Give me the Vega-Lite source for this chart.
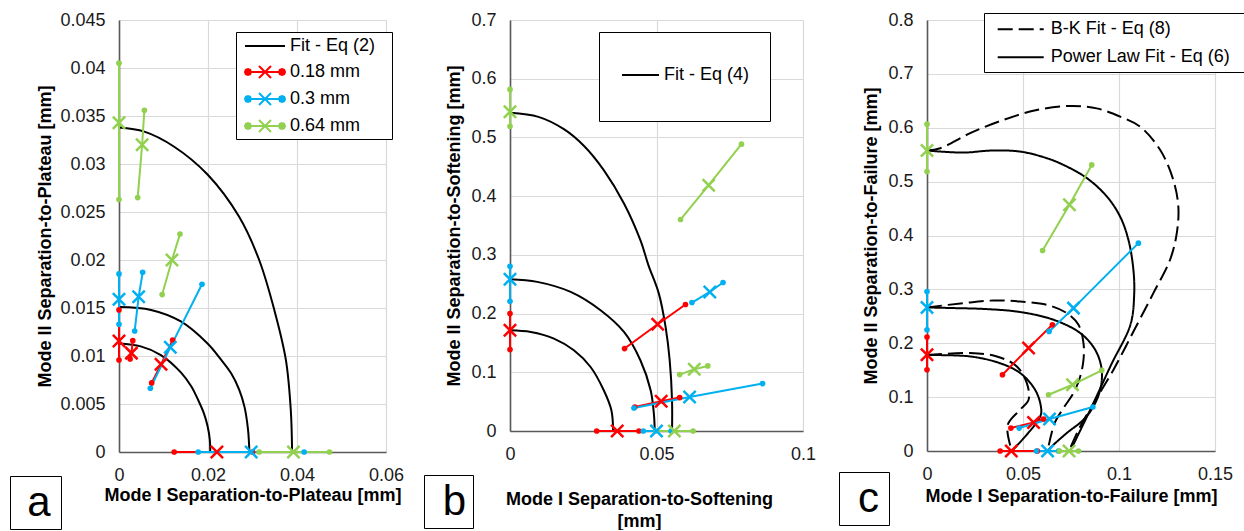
{
"$schema": "https://vega.github.io/schema/vega-lite/v6.json",
"background": "white",
"padding": {"left": 9, "top": 11, "right": 0, "bottom": 0},
"config": {
  "font": "Liberation Sans",
  "view": {"stroke": null},
  "axis": {"labelFont": "Liberation Sans", "labelFontSize": 18, "labelColor": "#1a1a1a", "titleFont": "Liberation Sans", "titleFontSize": 18, "titleFontWeight": "bold", "titleColor": "#000000", "gridColor": "#d9d9d9", "gridWidth": 1.2, "domainColor": "#595959", "domainWidth": 1.6, "ticks": false, "tickSize": 0, "labelPadding": 14, "labelFlush": false, "labelOverlap": false, "grid": true},
  "legend": {"labelFont": "Liberation Sans", "labelColor": "#000000"}
},
"spacing": 124,
"bounds": "flush",
"resolve": {"scale": {"color": "independent", "opacity": "independent", "stroke": "independent", "strokeDash": "independent"}, "legend": {"color": "independent", "opacity": "independent", "stroke": "independent", "strokeDash": "independent"}},
"datasets": {
"pts": [
{"p":"a","s":"0.18 mm","g":"ra1","k":"e","x":0,"y":0.0148},{"p":"a","s":"0.18 mm","g":"ra1","k":"m","x":0,"y":0.01157},{"p":"a","s":"0.18 mm","g":"ra1","k":"e","x":0,"y":0.00958},
{"p":"a","s":"0.18 mm","g":"ra2","k":"e","x":0.0031,"y":0.0116},{"p":"a","s":"0.18 mm","g":"ra2","k":"m","x":0.0028,"y":0.0103},{"p":"a","s":"0.18 mm","g":"ra2","k":"e","x":0.0025,"y":0.0097},
{"p":"a","s":"0.18 mm","g":"ra3","k":"e","x":0.01206,"y":0.01167},{"p":"a","s":"0.18 mm","g":"ra3","k":"m","x":0.00944,"y":0.00913},{"p":"a","s":"0.18 mm","g":"ra3","k":"e","x":0.00734,"y":0.0072},
{"p":"a","s":"0.18 mm","g":"ra4","k":"e","x":0.0124,"y":0},{"p":"a","s":"0.18 mm","g":"ra4","k":"m","x":0.022,"y":0},{"p":"a","s":"0.18 mm","g":"ra4","k":"e","x":0.03,"y":0},
{"p":"a","s":"0.3 mm","g":"ba1","k":"e","x":0,"y":0.01855},{"p":"a","s":"0.3 mm","g":"ba1","k":"m","x":0,"y":0.0159},{"p":"a","s":"0.3 mm","g":"ba1","k":"e","x":0,"y":0.0133},
{"p":"a","s":"0.3 mm","g":"ba2","k":"e","x":0.00532,"y":0.01872},{"p":"a","s":"0.3 mm","g":"ba2","k":"m","x":0.00442,"y":0.01618},{"p":"a","s":"0.3 mm","g":"ba2","k":"e","x":0.00352,"y":0.0126},
{"p":"a","s":"0.3 mm","g":"ba3","k":"e","x":0.01865,"y":0.01747},{"p":"a","s":"0.3 mm","g":"ba3","k":"m","x":0.01153,"y":0.0109},{"p":"a","s":"0.3 mm","g":"ba3","k":"e","x":0.00704,"y":0.00664},
{"p":"a","s":"0.3 mm","g":"ba4","k":"e","x":0.0178,"y":0},{"p":"a","s":"0.3 mm","g":"ba4","k":"m","x":0.0297,"y":0},{"p":"a","s":"0.3 mm","g":"ba4","k":"e","x":0.0416,"y":0},
{"p":"a","s":"0.64 mm","g":"ga1","k":"e","x":0,"y":0.0405},{"p":"a","s":"0.64 mm","g":"ga1","k":"m","x":0,"y":0.0343},{"p":"a","s":"0.64 mm","g":"ga1","k":"e","x":0,"y":0.0263},
{"p":"a","s":"0.64 mm","g":"ga2","k":"e","x":0.0057,"y":0.0356},{"p":"a","s":"0.64 mm","g":"ga2","k":"m","x":0.0052,"y":0.032},{"p":"a","s":"0.64 mm","g":"ga2","k":"e","x":0.0042,"y":0.0265},
{"p":"a","s":"0.64 mm","g":"ga3","k":"e","x":0.0137,"y":0.0227},{"p":"a","s":"0.64 mm","g":"ga3","k":"m","x":0.0119,"y":0.02},{"p":"a","s":"0.64 mm","g":"ga3","k":"e","x":0.0097,"y":0.0164},
{"p":"a","s":"0.64 mm","g":"ga4","k":"e","x":0.0315,"y":0},{"p":"a","s":"0.64 mm","g":"ga4","k":"m","x":0.0392,"y":0},{"p":"a","s":"0.64 mm","g":"ga4","k":"e","x":0.0473,"y":0},
{"p":"b","s":"0.18 mm","g":"rb1","k":"e","x":0,"y":0.2},{"p":"b","s":"0.18 mm","g":"rb1","k":"m","x":0,"y":0.1716},{"p":"b","s":"0.18 mm","g":"rb1","k":"e","x":0,"y":0.1387},
{"p":"b","s":"0.18 mm","g":"rb2","k":"e","x":0.0391,"y":0.1404},{"p":"b","s":"0.18 mm","g":"rb2","k":"m","x":0.0504,"y":0.1818},{"p":"b","s":"0.18 mm","g":"rb2","k":"e","x":0.0599,"y":0.2154},
{"p":"b","s":"0.18 mm","g":"rb3","k":"e","x":0.0426,"y":0.0409},{"p":"b","s":"0.18 mm","g":"rb3","k":"m","x":0.0516,"y":0.0506},{"p":"b","s":"0.18 mm","g":"rb3","k":"e","x":0.0579,"y":0.0569},
{"p":"b","s":"0.18 mm","g":"rb4","k":"e","x":0.0296,"y":0},{"p":"b","s":"0.18 mm","g":"rb4","k":"m","x":0.0366,"y":0},{"p":"b","s":"0.18 mm","g":"rb4","k":"e","x":0.044,"y":0},
{"p":"b","s":"0.3 mm","g":"bb1","k":"e","x":0,"y":0.2806},{"p":"b","s":"0.3 mm","g":"bb1","k":"m","x":0,"y":0.2585},{"p":"b","s":"0.3 mm","g":"bb1","k":"e","x":0,"y":0.221},
{"p":"b","s":"0.3 mm","g":"bb2","k":"e","x":0.0621,"y":0.2188},{"p":"b","s":"0.3 mm","g":"bb2","k":"m","x":0.0682,"y":0.2369},{"p":"b","s":"0.3 mm","g":"bb2","k":"e","x":0.0727,"y":0.2529},
{"p":"b","s":"0.3 mm","g":"bb3","k":"e","x":0.0423,"y":0.0392},{"p":"b","s":"0.3 mm","g":"bb3","k":"m","x":0.0613,"y":0.058},{"p":"b","s":"0.3 mm","g":"bb3","k":"e","x":0.0862,"y":0.0808},
{"p":"b","s":"0.3 mm","g":"bb4","k":"e","x":0.0455,"y":0},{"p":"b","s":"0.3 mm","g":"bb4","k":"m","x":0.05,"y":0},{"p":"b","s":"0.3 mm","g":"bb4","k":"e","x":0.055,"y":0},
{"p":"b","s":"0.64 mm","g":"gb1","k":"e","x":0,"y":0.5818},{"p":"b","s":"0.64 mm","g":"gb1","k":"m","x":0,"y":0.5436},{"p":"b","s":"0.64 mm","g":"gb1","k":"e","x":0,"y":0.519},
{"p":"b","s":"0.64 mm","g":"gb2","k":"e","x":0.0582,"y":0.3602},{"p":"b","s":"0.64 mm","g":"gb2","k":"m","x":0.0678,"y":0.4187},{"p":"b","s":"0.64 mm","g":"gb2","k":"e","x":0.079,"y":0.4885},
{"p":"b","s":"0.64 mm","g":"gb3","k":"e","x":0.0579,"y":0.0961},{"p":"b","s":"0.64 mm","g":"gb3","k":"m","x":0.0629,"y":0.1051},{"p":"b","s":"0.64 mm","g":"gb3","k":"e","x":0.0675,"y":0.1108},
{"p":"b","s":"0.64 mm","g":"gb4","k":"e","x":0.05,"y":0},{"p":"b","s":"0.64 mm","g":"gb4","k":"m","x":0.0561,"y":0},{"p":"b","s":"0.64 mm","g":"gb4","k":"e","x":0.0625,"y":0},
{"p":"c","s":"0.18 mm","g":"rc1","k":"e","x":0,"y":0.2115},{"p":"c","s":"0.18 mm","g":"rc1","k":"m","x":0,"y":0.1786},{"p":"c","s":"0.18 mm","g":"rc1","k":"e","x":0,"y":0.1508},
{"p":"c","s":"0.18 mm","g":"rc2","k":"e","x":0.0393,"y":0.1415},{"p":"c","s":"0.18 mm","g":"rc2","k":"m","x":0.0529,"y":0.191},{"p":"c","s":"0.18 mm","g":"rc2","k":"e","x":0.0653,"y":0.2343},
{"p":"c","s":"0.18 mm","g":"rc3","k":"e","x":0.0437,"y":0.0426},{"p":"c","s":"0.18 mm","g":"rc3","k":"m","x":0.0555,"y":0.0531},{"p":"c","s":"0.18 mm","g":"rc3","k":"e","x":0.0607,"y":0.0593},
{"p":"c","s":"0.18 mm","g":"rc4","k":"e","x":0.0381,"y":0},{"p":"c","s":"0.18 mm","g":"rc4","k":"m","x":0.0439,"y":0},{"p":"c","s":"0.18 mm","g":"rc4","k":"e","x":0.0575,"y":0},
{"p":"c","s":"0.3 mm","g":"bc1","k":"e","x":0,"y":0.296},{"p":"c","s":"0.3 mm","g":"bc1","k":"m","x":0,"y":0.2664},{"p":"c","s":"0.3 mm","g":"bc1","k":"e","x":0,"y":0.225},
{"p":"c","s":"0.3 mm","g":"bc2","k":"e","x":0.0636,"y":0.2219},{"p":"c","s":"0.3 mm","g":"bc2","k":"m","x":0.0763,"y":0.2652},{"p":"c","s":"0.3 mm","g":"bc2","k":"e","x":0.1101,"y":0.3858},
{"p":"c","s":"0.3 mm","g":"bc3","k":"e","x":0.048,"y":0.0426},{"p":"c","s":"0.3 mm","g":"bc3","k":"m","x":0.0638,"y":0.0593},{"p":"c","s":"0.3 mm","g":"bc3","k":"e","x":0.0864,"y":0.0816},
{"p":"c","s":"0.3 mm","g":"bc4","k":"e","x":0.057,"y":0},{"p":"c","s":"0.3 mm","g":"bc4","k":"m","x":0.0628,"y":0},{"p":"c","s":"0.3 mm","g":"bc4","k":"e","x":0.0685,"y":0},
{"p":"c","s":"0.64 mm","g":"gc1","k":"e","x":0,"y":0.6066},{"p":"c","s":"0.64 mm","g":"gc1","k":"m","x":0,"y":0.5577},{"p":"c","s":"0.64 mm","g":"gc1","k":"e","x":0,"y":0.5187},
{"p":"c","s":"0.64 mm","g":"gc2","k":"e","x":0.0602,"y":0.3721},{"p":"c","s":"0.64 mm","g":"gc2","k":"m","x":0.0742,"y":0.4569},{"p":"c","s":"0.64 mm","g":"gc2","k":"e","x":0.0858,"y":0.531},
{"p":"c","s":"0.64 mm","g":"gc3","k":"e","x":0.0633,"y":0.1044},{"p":"c","s":"0.64 mm","g":"gc3","k":"m","x":0.0758,"y":0.123},{"p":"c","s":"0.64 mm","g":"gc3","k":"e","x":0.091,"y":0.1496},
{"p":"c","s":"0.64 mm","g":"gc4","k":"e","x":0.069,"y":0},{"p":"c","s":"0.64 mm","g":"gc4","k":"m","x":0.074,"y":0},{"p":"c","s":"0.64 mm","g":"gc4","k":"e","x":0.0789,"y":0}
],
"fits": [
{"p":"a","c":"a1","s":"Fit - Eq (2)","x":0,"y":0.0113},{"p":"a","c":"a1","s":"Fit - Eq (2)","x":0.0049,"y":0.011},{"p":"a","c":"a1","s":"Fit - Eq (2)","x":0.0094,"y":0.0101},{"p":"a","c":"a1","s":"Fit - Eq (2)","x":0.0139,"y":0.0083},{"p":"a","c":"a1","s":"Fit - Eq (2)","x":0.0163,"y":0.0068},{"p":"a","c":"a1","s":"Fit - Eq (2)","x":0.0177,"y":0.0055},{"p":"a","c":"a1","s":"Fit - Eq (2)","x":0.0191,"y":0.004},{"p":"a","c":"a1","s":"Fit - Eq (2)","x":0.0199,"y":0.0027},{"p":"a","c":"a1","s":"Fit - Eq (2)","x":0.0204,"y":0.0013},{"p":"a","c":"a1","s":"Fit - Eq (2)","x":0.0205,"y":0},
{"p":"a","c":"a2","s":"Fit - Eq (2)","x":0,"y":0.0151},{"p":"a","c":"a2","s":"Fit - Eq (2)","x":0.0072,"y":0.0148},{"p":"a","c":"a2","s":"Fit - Eq (2)","x":0.0139,"y":0.0136},{"p":"a","c":"a2","s":"Fit - Eq (2)","x":0.0199,"y":0.0113},{"p":"a","c":"a2","s":"Fit - Eq (2)","x":0.0228,"y":0.0097},{"p":"a","c":"a2","s":"Fit - Eq (2)","x":0.0252,"y":0.0082},{"p":"a","c":"a2","s":"Fit - Eq (2)","x":0.027,"y":0.0065},{"p":"a","c":"a2","s":"Fit - Eq (2)","x":0.0282,"y":0.0047},{"p":"a","c":"a2","s":"Fit - Eq (2)","x":0.029,"y":0.0023},{"p":"a","c":"a2","s":"Fit - Eq (2)","x":0.0293,"y":0},
{"p":"a","c":"a3","s":"Fit - Eq (2)","x":0,"y":0.0338},{"p":"a","c":"a3","s":"Fit - Eq (2)","x":0.0057,"y":0.03337},{"p":"a","c":"a3","s":"Fit - Eq (2)","x":0.0124,"y":0.0318},{"p":"a","c":"a3","s":"Fit - Eq (2)","x":0.0199,"y":0.0289},{"p":"a","c":"a3","s":"Fit - Eq (2)","x":0.027,"y":0.0245},{"p":"a","c":"a3","s":"Fit - Eq (2)","x":0.0315,"y":0.02},{"p":"a","c":"a3","s":"Fit - Eq (2)","x":0.0349,"y":0.0148},{"p":"a","c":"a3","s":"Fit - Eq (2)","x":0.0375,"y":0.0096},{"p":"a","c":"a3","s":"Fit - Eq (2)","x":0.0386,"y":0.0044},{"p":"a","c":"a3","s":"Fit - Eq (2)","x":0.0389,"y":0},
{"p":"b","c":"b1","s":"Fit - Eq (4)","x":0,"y":0.1716},{"p":"b","c":"b1","s":"Fit - Eq (4)","x":0.0071,"y":0.1687},{"p":"b","c":"b1","s":"Fit - Eq (4)","x":0.015,"y":0.1574},{"p":"b","c":"b1","s":"Fit - Eq (4)","x":0.0218,"y":0.1375},{"p":"b","c":"b1","s":"Fit - Eq (4)","x":0.0275,"y":0.109},{"p":"b","c":"b1","s":"Fit - Eq (4)","x":0.032,"y":0.0694},{"p":"b","c":"b1","s":"Fit - Eq (4)","x":0.0346,"y":0.0353},{"p":"b","c":"b1","s":"Fit - Eq (4)","x":0.0352,"y":0},
{"p":"b","c":"b2","s":"Fit - Eq (4)","x":0,"y":0.2585},{"p":"b","c":"b2","s":"Fit - Eq (4)","x":0.0093,"y":0.254},{"p":"b","c":"b2","s":"Fit - Eq (4)","x":0.0207,"y":0.2369},{"p":"b","c":"b2","s":"Fit - Eq (4)","x":0.0309,"y":0.2057},{"p":"b","c":"b2","s":"Fit - Eq (4)","x":0.0389,"y":0.1687},{"p":"b","c":"b2","s":"Fit - Eq (4)","x":0.0445,"y":0.1205},{"p":"b","c":"b2","s":"Fit - Eq (4)","x":0.048,"y":0.0694},{"p":"b","c":"b2","s":"Fit - Eq (4)","x":0.0491,"y":0.0296},{"p":"b","c":"b2","s":"Fit - Eq (4)","x":0.0494,"y":0},
{"p":"b","c":"b3","s":"Fit - Eq (4)","x":0,"y":0.542},{"p":"b","c":"b3","s":"Fit - Eq (4)","x":0.0097,"y":0.535},{"p":"b","c":"b3","s":"Fit - Eq (4)","x":0.0184,"y":0.514},{"p":"b","c":"b3","s":"Fit - Eq (4)","x":0.0252,"y":0.4857},{"p":"b","c":"b3","s":"Fit - Eq (4)","x":0.032,"y":0.4442},{"p":"b","c":"b3","s":"Fit - Eq (4)","x":0.0389,"y":0.3875},{"p":"b","c":"b3","s":"Fit - Eq (4)","x":0.0445,"y":0.325},{"p":"b","c":"b3","s":"Fit - Eq (4)","x":0.0472,"y":0.283},{"p":"b","c":"b3","s":"Fit - Eq (4)","x":0.0508,"y":0.234},{"p":"b","c":"b3","s":"Fit - Eq (4)","x":0.0531,"y":0.1773},{"p":"b","c":"b3","s":"Fit - Eq (4)","x":0.0545,"y":0.1205},{"p":"b","c":"b3","s":"Fit - Eq (4)","x":0.0553,"y":0.0523},{"p":"b","c":"b3","s":"Fit - Eq (4)","x":0.0553,"y":0},
{"p":"c","c":"pl1","s":"Power Law Fit - Eq (6)","x":0,"y":0.178},{"p":"c","c":"pl1","s":"Power Law Fit - Eq (6)","x":0.0225,"y":0.1755},{"p":"c","c":"pl1","s":"Power Law Fit - Eq (6)","x":0.038,"y":0.163},{"p":"c","c":"pl1","s":"Power Law Fit - Eq (6)","x":0.0485,"y":0.1447},{"p":"c","c":"pl1","s":"Power Law Fit - Eq (6)","x":0.0563,"y":0.1137},{"p":"c","c":"pl1","s":"Power Law Fit - Eq (6)","x":0.0593,"y":0.0828},{"p":"c","c":"pl1","s":"Power Law Fit - Eq (6)","x":0.059,"y":0.0642},{"p":"c","c":"pl1","s":"Power Law Fit - Eq (6)","x":0.0442,"y":0},
{"p":"c","c":"bk1","s":"B-K Fit - Eq (8)","x":0,"y":0.178},{"p":"c","c":"bk1","s":"B-K Fit - Eq (8)","x":0.0225,"y":0.1818},{"p":"c","c":"bk1","s":"B-K Fit - Eq (8)","x":0.0364,"y":0.1755},{"p":"c","c":"bk1","s":"B-K Fit - Eq (8)","x":0.0468,"y":0.157},{"p":"c","c":"bk1","s":"B-K Fit - Eq (8)","x":0.052,"y":0.126},{"p":"c","c":"bk1","s":"B-K Fit - Eq (8)","x":0.0529,"y":0.095},{"p":"c","c":"bk1","s":"B-K Fit - Eq (8)","x":0.0485,"y":0.0766},{"p":"c","c":"bk1","s":"B-K Fit - Eq (8)","x":0.042,"y":0.048},{"p":"c","c":"bk1","s":"B-K Fit - Eq (8)","x":0.0442,"y":0},
{"p":"c","c":"pl2","s":"Power Law Fit - Eq (6)","x":0,"y":0.2664},{"p":"c","c":"pl2","s":"Power Law Fit - Eq (6)","x":0.0139,"y":0.2653},{"p":"c","c":"pl2","s":"Power Law Fit - Eq (6)","x":0.0312,"y":0.2634},{"p":"c","c":"pl2","s":"Power Law Fit - Eq (6)","x":0.0485,"y":0.258},{"p":"c","c":"pl2","s":"Power Law Fit - Eq (6)","x":0.0659,"y":0.2436},{"p":"c","c":"pl2","s":"Power Law Fit - Eq (6)","x":0.0798,"y":0.2189},{"p":"c","c":"pl2","s":"Power Law Fit - Eq (6)","x":0.0876,"y":0.1879},{"p":"c","c":"pl2","s":"Power Law Fit - Eq (6)","x":0.091,"y":0.1508},{"p":"c","c":"pl2","s":"Power Law Fit - Eq (6)","x":0.0902,"y":0.1137},{"p":"c","c":"pl2","s":"Power Law Fit - Eq (6)","x":0.0867,"y":0.0828},{"p":"c","c":"pl2","s":"Power Law Fit - Eq (6)","x":0.0815,"y":0.058},{"p":"c","c":"pl2","s":"Power Law Fit - Eq (6)","x":0.0728,"y":0.0334},{"p":"c","c":"pl2","s":"Power Law Fit - Eq (6)","x":0.065,"y":0.0085},{"p":"c","c":"pl2","s":"Power Law Fit - Eq (6)","x":0.0628,"y":0},
{"p":"c","c":"bk2","s":"B-K Fit - Eq (8)","x":0,"y":0.2664},{"p":"c","c":"bk2","s":"B-K Fit - Eq (8)","x":0.019,"y":0.2745},{"p":"c","c":"bk2","s":"B-K Fit - Eq (8)","x":0.0347,"y":0.2794},{"p":"c","c":"bk2","s":"B-K Fit - Eq (8)","x":0.0485,"y":0.2775},{"p":"c","c":"bk2","s":"B-K Fit - Eq (8)","x":0.0624,"y":0.2714},{"p":"c","c":"bk2","s":"B-K Fit - Eq (8)","x":0.0728,"y":0.256},{"p":"c","c":"bk2","s":"B-K Fit - Eq (8)","x":0.0789,"y":0.2343},{"p":"c","c":"bk2","s":"B-K Fit - Eq (8)","x":0.0815,"y":0.2003},{"p":"c","c":"bk2","s":"B-K Fit - Eq (8)","x":0.0815,"y":0.1694},{"p":"c","c":"bk2","s":"B-K Fit - Eq (8)","x":0.0798,"y":0.1384},{"p":"c","c":"bk2","s":"B-K Fit - Eq (8)","x":0.0763,"y":0.1076},{"p":"c","c":"bk2","s":"B-K Fit - Eq (8)","x":0.0711,"y":0.0798},{"p":"c","c":"bk2","s":"B-K Fit - Eq (8)","x":0.0665,"y":0.052},{"p":"c","c":"bk2","s":"B-K Fit - Eq (8)","x":0.0628,"y":0},
{"p":"c","c":"pl3","s":"Power Law Fit - Eq (6)","x":0,"y":0.5577},{"p":"c","c":"pl3","s":"Power Law Fit - Eq (6)","x":0.019,"y":0.5539},{"p":"c","c":"pl3","s":"Power Law Fit - Eq (6)","x":0.033,"y":0.5576},{"p":"c","c":"pl3","s":"Power Law Fit - Eq (6)","x":0.0485,"y":0.5558},{"p":"c","c":"pl3","s":"Power Law Fit - Eq (6)","x":0.0624,"y":0.5435},{"p":"c","c":"pl3","s":"Power Law Fit - Eq (6)","x":0.0711,"y":0.531},{"p":"c","c":"pl3","s":"Power Law Fit - Eq (6)","x":0.0833,"y":0.5064},{"p":"c","c":"pl3","s":"Power Law Fit - Eq (6)","x":0.0937,"y":0.4723},{"p":"c","c":"pl3","s":"Power Law Fit - Eq (6)","x":0.1006,"y":0.435},{"p":"c","c":"pl3","s":"Power Law Fit - Eq (6)","x":0.1049,"y":0.392},{"p":"c","c":"pl3","s":"Power Law Fit - Eq (6)","x":0.1075,"y":0.3363},{"p":"c","c":"pl3","s":"Power Law Fit - Eq (6)","x":0.1079,"y":0.29},{"p":"c","c":"pl3","s":"Power Law Fit - Eq (6)","x":0.106,"y":0.235},{"p":"c","c":"pl3","s":"Power Law Fit - Eq (6)","x":0.0959,"y":0.16},{"p":"c","c":"pl3","s":"Power Law Fit - Eq (6)","x":0.0859,"y":0.083},{"p":"c","c":"pl3","s":"Power Law Fit - Eq (6)","x":0.0746,"y":0},
{"p":"c","c":"bk3","s":"B-K Fit - Eq (8)","x":0,"y":0.5577},{"p":"c","c":"bk3","s":"B-K Fit - Eq (8)","x":0.0069,"y":0.562},{"p":"c","c":"bk3","s":"B-K Fit - Eq (8)","x":0.0225,"y":0.59},{"p":"c","c":"bk3","s":"B-K Fit - Eq (8)","x":0.0399,"y":0.6146},{"p":"c","c":"bk3","s":"B-K Fit - Eq (8)","x":0.0572,"y":0.633},{"p":"c","c":"bk3","s":"B-K Fit - Eq (8)","x":0.0746,"y":0.6405},{"p":"c","c":"bk3","s":"B-K Fit - Eq (8)","x":0.0884,"y":0.636},{"p":"c","c":"bk3","s":"B-K Fit - Eq (8)","x":0.1006,"y":0.6207},{"p":"c","c":"bk3","s":"B-K Fit - Eq (8)","x":0.111,"y":0.602},{"p":"c","c":"bk3","s":"B-K Fit - Eq (8)","x":0.1214,"y":0.559},{"p":"c","c":"bk3","s":"B-K Fit - Eq (8)","x":0.1283,"y":0.503},{"p":"c","c":"bk3","s":"B-K Fit - Eq (8)","x":0.1309,"y":0.4537},{"p":"c","c":"bk3","s":"B-K Fit - Eq (8)","x":0.1301,"y":0.4044},{"p":"c","c":"bk3","s":"B-K Fit - Eq (8)","x":0.1266,"y":0.355},{"p":"c","c":"bk3","s":"B-K Fit - Eq (8)","x":0.1179,"y":0.293},{"p":"c","c":"bk3","s":"B-K Fit - Eq (8)","x":0.108,"y":0.225},{"p":"c","c":"bk3","s":"B-K Fit - Eq (8)","x":0.097,"y":0.15},{"p":"c","c":"bk3","s":"B-K Fit - Eq (8)","x":0.087,"y":0.09},{"p":"c","c":"bk3","s":"B-K Fit - Eq (8)","x":0.079,"y":0.04},{"p":"c","c":"bk3","s":"B-K Fit - Eq (8)","x":0.074,"y":0}
]
},
"hconcat": [
{
 "width": 267, "height": 432,
 "layer": [
  {"data": {"name": "fits"}, "transform": [{"filter": "datum.p == 'a'"}],
   "mark": {"type": "line", "strokeWidth": 2, "interpolate": "catmull-rom"},
   "encoding": {
    "x": {"field": "x", "type": "quantitative", "scale": {"domain": [0, 0.06], "nice": false}, "axis": {"title": "Mode I Separation-to-Plateau [mm]", "values": [0, 0.02, 0.04, 0.06], "format": "~g", "titlePadding": 2}},
    "y": {"field": "y", "type": "quantitative", "scale": {"domain": [0, 0.045], "nice": false}, "axis": {"title": "Mode II Separation-to-Plateau [mm]", "values": [0, 0.005, 0.01, 0.015, 0.02, 0.025, 0.03, 0.035, 0.04, 0.045], "format": "~g", "titlePadding": 5}},
    "detail": {"field": "c"},
    "order": {"value": null},
    "color": {"field": "s", "type": "nominal", "scale": {"domain": ["Fit - Eq (2)", "0.18 mm", "0.3 mm", "0.64 mm"], "range": ["#000000", "#FF0000", "#00B0F0", "#92D050"]},
     "legend": {"title": null, "orient": "none", "legendX": 117, "legendY": 12, "padding": 3, "rowPadding": 6, "strokeColor": "#000000", "fillColor": "#ffffff", "labelFontSize": 18, "labelOffset": 14, "symbolSize": 400, "symbolOffset": 15, "symbolStrokeWidth": 2,
      "encode": {"symbols": {"update": {
        "shape": {"signal": "datum.value === 'Fit - Eq (2)' ? 'M-2,0L2,0M12,0' : 'M-1.7,0L1.7,0M-0.6,-0.6L0.6,0.6M-0.6,0.6L0.6,-0.6M-1.4,0L-1.488,0.212L-1.7,0.3L-1.912,0.212L-2,0L-1.912,-0.212L-1.7,-0.3L-1.488,-0.212ZM2,0L1.912,0.212L1.7,0.3L1.488,0.212L1.4,0L1.488,-0.212L1.7,-0.3L1.912,-0.212ZM12,0'"},
        "fill": {"signal": "datum.value === '0.18 mm' ? '#FF0000' : datum.value === '0.3 mm' ? '#00B0F0' : datum.value === '0.64 mm' ? '#92D050' : 'transparent'"},
        "stroke": {"signal": "datum.value === '0.18 mm' ? '#FF0000' : datum.value === '0.3 mm' ? '#00B0F0' : datum.value === '0.64 mm' ? '#92D050' : '#000000'"},
        "strokeWidth": {"value": 2}, "opacity": {"value": 1}}}}}}
   }},
  {"data": {"name": "pts"}, "transform": [{"filter": "datum.p == 'a'"}],
   "mark": {"type": "line", "strokeWidth": 2},
   "encoding": {"x": {"field": "x", "type": "quantitative"}, "y": {"field": "y", "type": "quantitative"}, "detail": {"field": "g"}, "order": {"value": null},
    "color": {"field": "s", "type": "nominal", "scale": {"domain": ["Fit - Eq (2)", "0.18 mm", "0.3 mm", "0.64 mm"], "range": ["#000000", "#FF0000", "#00B0F0", "#92D050"]}}}},
  {"data": {"name": "pts"}, "transform": [{"filter": "datum.p == 'a' && datum.k == 'e'"}],
   "mark": {"type": "point", "filled": true, "size": 32, "shape": "circle", "opacity": 1},
   "encoding": {"x": {"field": "x", "type": "quantitative"}, "y": {"field": "y", "type": "quantitative"},
    "color": {"field": "s", "type": "nominal", "scale": {"domain": ["Fit - Eq (2)", "0.18 mm", "0.3 mm", "0.64 mm"], "range": ["#000000", "#FF0000", "#00B0F0", "#92D050"]}},
    "opacity": {"field": "p", "type": "ordinal", "scale": {"domain": ["a"], "range": [1]},
     "legend": {"title": null, "orient": "none", "legendX": -109, "legendY": 456, "padding": 5.5, "strokeColor": "#000000", "fillColor": "#ffffff", "labelFontSize": 42, "labelOffset": -30.2, "symbolType": "M-1,0M1,0", "symbolSize": 1369, "symbolOpacity": 0, "symbolStrokeWidth": 0}}}},
  {"data": {"name": "pts"}, "transform": [{"filter": "datum.p == 'a' && datum.k == 'm'"}],
   "mark": {"type": "point", "filled": false, "size": 150, "strokeWidth": 2.5, "opacity": 1, "shape": "M-1,-1L1,1M-1,1L1,-1"},
   "encoding": {"x": {"field": "x", "type": "quantitative"}, "y": {"field": "y", "type": "quantitative"},
    "color": {"field": "s", "type": "nominal", "scale": {"domain": ["Fit - Eq (2)", "0.18 mm", "0.3 mm", "0.64 mm"], "range": ["#000000", "#FF0000", "#00B0F0", "#92D050"]}}}}
 ]
},
{
 "width": 293, "height": 411,
 "layer": [
  {"data": {"name": "fits"}, "transform": [{"filter": "datum.p == 'b'"}],
   "mark": {"type": "line", "strokeWidth": 2, "interpolate": "catmull-rom"},
   "encoding": {
    "x": {"field": "x", "type": "quantitative", "scale": {"domain": [0, 0.1], "nice": false}, "axis": {"title": ["Mode I Separation-to-Softening", "[mm]"], "values": [0, 0.05, 0.1], "format": "~g", "titlePadding": 27, "titleLineHeight": 22, "titleX": 129}},
    "y": {"field": "y", "type": "quantitative", "scale": {"domain": [0, 0.7], "nice": false}, "axis": {"title": "Mode II Separation-to-Softening [mm]", "values": [0, 0.1, 0.2, 0.3, 0.4, 0.5, 0.6, 0.7], "format": "~g", "titlePadding": 7}},
    "detail": {"field": "c"},
    "order": {"value": null},
    "stroke": {"field": "s", "type": "nominal", "scale": {"domain": ["Fit - Eq (4)"], "range": ["#000000"]},
     "legend": {"title": null, "orient": "none", "legendX": 89, "legendY": 12, "padding": 9, "strokeColor": "#000000", "fillColor": "#ffffff", "labelFontSize": 18, "labelOffset": -10.5, "symbolType": "M-0.56,0L0.56,0M0,-1M0,1M3.53,0", "symbolSize": 4356, "symbolOffset": -1.5, "symbolStrokeWidth": 2, "symbolStrokeColor": "#000000", "symbolFillColor": "transparent"}}
   }},
  {"data": {"name": "pts"}, "transform": [{"filter": "datum.p == 'b'"}],
   "mark": {"type": "line", "strokeWidth": 2},
   "encoding": {"x": {"field": "x", "type": "quantitative"}, "y": {"field": "y", "type": "quantitative"}, "detail": {"field": "g"}, "order": {"value": null},
    "color": {"field": "s", "type": "nominal", "scale": {"domain": ["0.18 mm", "0.3 mm", "0.64 mm"], "range": ["#FF0000", "#00B0F0", "#92D050"]}, "legend": null}}},
  {"data": {"name": "pts"}, "transform": [{"filter": "datum.p == 'b' && datum.k == 'e'"}],
   "mark": {"type": "point", "filled": true, "size": 32, "shape": "circle", "opacity": 1},
   "encoding": {"x": {"field": "x", "type": "quantitative"}, "y": {"field": "y", "type": "quantitative"},
    "color": {"field": "s", "type": "nominal", "scale": {"domain": ["0.18 mm", "0.3 mm", "0.64 mm"], "range": ["#FF0000", "#00B0F0", "#92D050"]}, "legend": null},
    "opacity": {"field": "p", "type": "ordinal", "scale": {"domain": ["b"], "range": [1]},
     "legend": {"title": null, "orient": "none", "legendX": -86, "legendY": 455, "padding": 5.5, "strokeColor": "#000000", "fillColor": "#ffffff", "labelFontSize": 42, "labelOffset": -28.7, "symbolType": "M-1,0M1,0", "symbolSize": 1156, "symbolOpacity": 0, "symbolStrokeWidth": 0}}}},
  {"data": {"name": "pts"}, "transform": [{"filter": "datum.p == 'b' && datum.k == 'm'"}],
   "mark": {"type": "point", "filled": false, "size": 150, "strokeWidth": 2.5, "opacity": 1, "shape": "M-1,-1L1,1M-1,1L1,-1"},
   "encoding": {"x": {"field": "x", "type": "quantitative"}, "y": {"field": "y", "type": "quantitative"},
    "color": {"field": "s", "type": "nominal", "scale": {"domain": ["0.18 mm", "0.3 mm", "0.64 mm"], "range": ["#FF0000", "#00B0F0", "#92D050"]}, "legend": null}}}
 ]
},
{
 "width": 288, "height": 431,
 "layer": [
  {"data": {"name": "fits"}, "transform": [{"filter": "datum.p == 'c'"}],
   "mark": {"type": "line", "strokeWidth": 2, "interpolate": "catmull-rom", "color": "#000000", "strokeCap": "butt"},
   "encoding": {
    "x": {"field": "x", "type": "quantitative", "scale": {"domain": [0, 0.15], "nice": false}, "axis": {"title": "Mode I Separation-to-Failure [mm]", "values": [0, 0.05, 0.1, 0.15], "format": "~g", "titlePadding": 4}},
    "y": {"field": "y", "type": "quantitative", "scale": {"domain": [0, 0.8], "nice": false}, "axis": {"title": "Mode II Separation-to-Failure [mm]", "values": [0, 0.1, 0.2, 0.3, 0.4, 0.5, 0.6, 0.7, 0.8], "format": "~g", "titlePadding": 7}},
    "detail": {"field": "c"},
    "order": {"value": null},
    "strokeDash": {"field": "s", "type": "nominal", "scale": {"domain": ["B-K Fit - Eq (8)", "Power Law Fit - Eq (6)"], "range": [[15, 6], [1, 0]]},
     "legend": {"title": null, "orient": "none", "legendX": 57, "legendY": -7, "padding": 5.3, "rowPadding": 8, "strokeColor": "#000000", "fillColor": "#ffffff", "labelFontSize": 18, "labelOffset": 19, "labelLimit": 400, "symbolType": "M-2.3,0L2.3,0M22.4,0", "symbolSize": 400, "symbolOffset": 20.4, "symbolStrokeWidth": 2, "symbolStrokeColor": "#000000", "symbolFillColor": "transparent"}}
   }},
  {"data": {"name": "pts"}, "transform": [{"filter": "datum.p == 'c'"}],
   "mark": {"type": "line", "strokeWidth": 2},
   "encoding": {"x": {"field": "x", "type": "quantitative"}, "y": {"field": "y", "type": "quantitative"}, "detail": {"field": "g"}, "order": {"value": null},
    "color": {"field": "s", "type": "nominal", "scale": {"domain": ["0.18 mm", "0.3 mm", "0.64 mm"], "range": ["#FF0000", "#00B0F0", "#92D050"]}, "legend": null}}},
  {"data": {"name": "pts"}, "transform": [{"filter": "datum.p == 'c' && datum.k == 'e'"}],
   "mark": {"type": "point", "filled": true, "size": 32, "shape": "circle", "opacity": 1},
   "encoding": {"x": {"field": "x", "type": "quantitative"}, "y": {"field": "y", "type": "quantitative"},
    "color": {"field": "s", "type": "nominal", "scale": {"domain": ["0.18 mm", "0.3 mm", "0.64 mm"], "range": ["#FF0000", "#00B0F0", "#92D050"]}, "legend": null},
    "opacity": {"field": "p", "type": "ordinal", "scale": {"domain": ["c"], "range": [1]},
     "legend": {"title": null, "orient": "none", "legendX": -88, "legendY": 452, "padding": 5.5, "strokeColor": "#000000", "fillColor": "#ffffff", "labelFontSize": 42, "labelOffset": -28.5, "symbolType": "M-1,0M1,0", "symbolSize": 1296, "symbolOpacity": 0, "symbolStrokeWidth": 0}}}},
  {"data": {"name": "pts"}, "transform": [{"filter": "datum.p == 'c' && datum.k == 'm'"}],
   "mark": {"type": "point", "filled": false, "size": 150, "strokeWidth": 2.5, "opacity": 1, "shape": "M-1,-1L1,1M-1,1L1,-1"},
   "encoding": {"x": {"field": "x", "type": "quantitative"}, "y": {"field": "y", "type": "quantitative"},
    "color": {"field": "s", "type": "nominal", "scale": {"domain": ["0.18 mm", "0.3 mm", "0.64 mm"], "range": ["#FF0000", "#00B0F0", "#92D050"]}, "legend": null}}}
 ]
}
]
}
